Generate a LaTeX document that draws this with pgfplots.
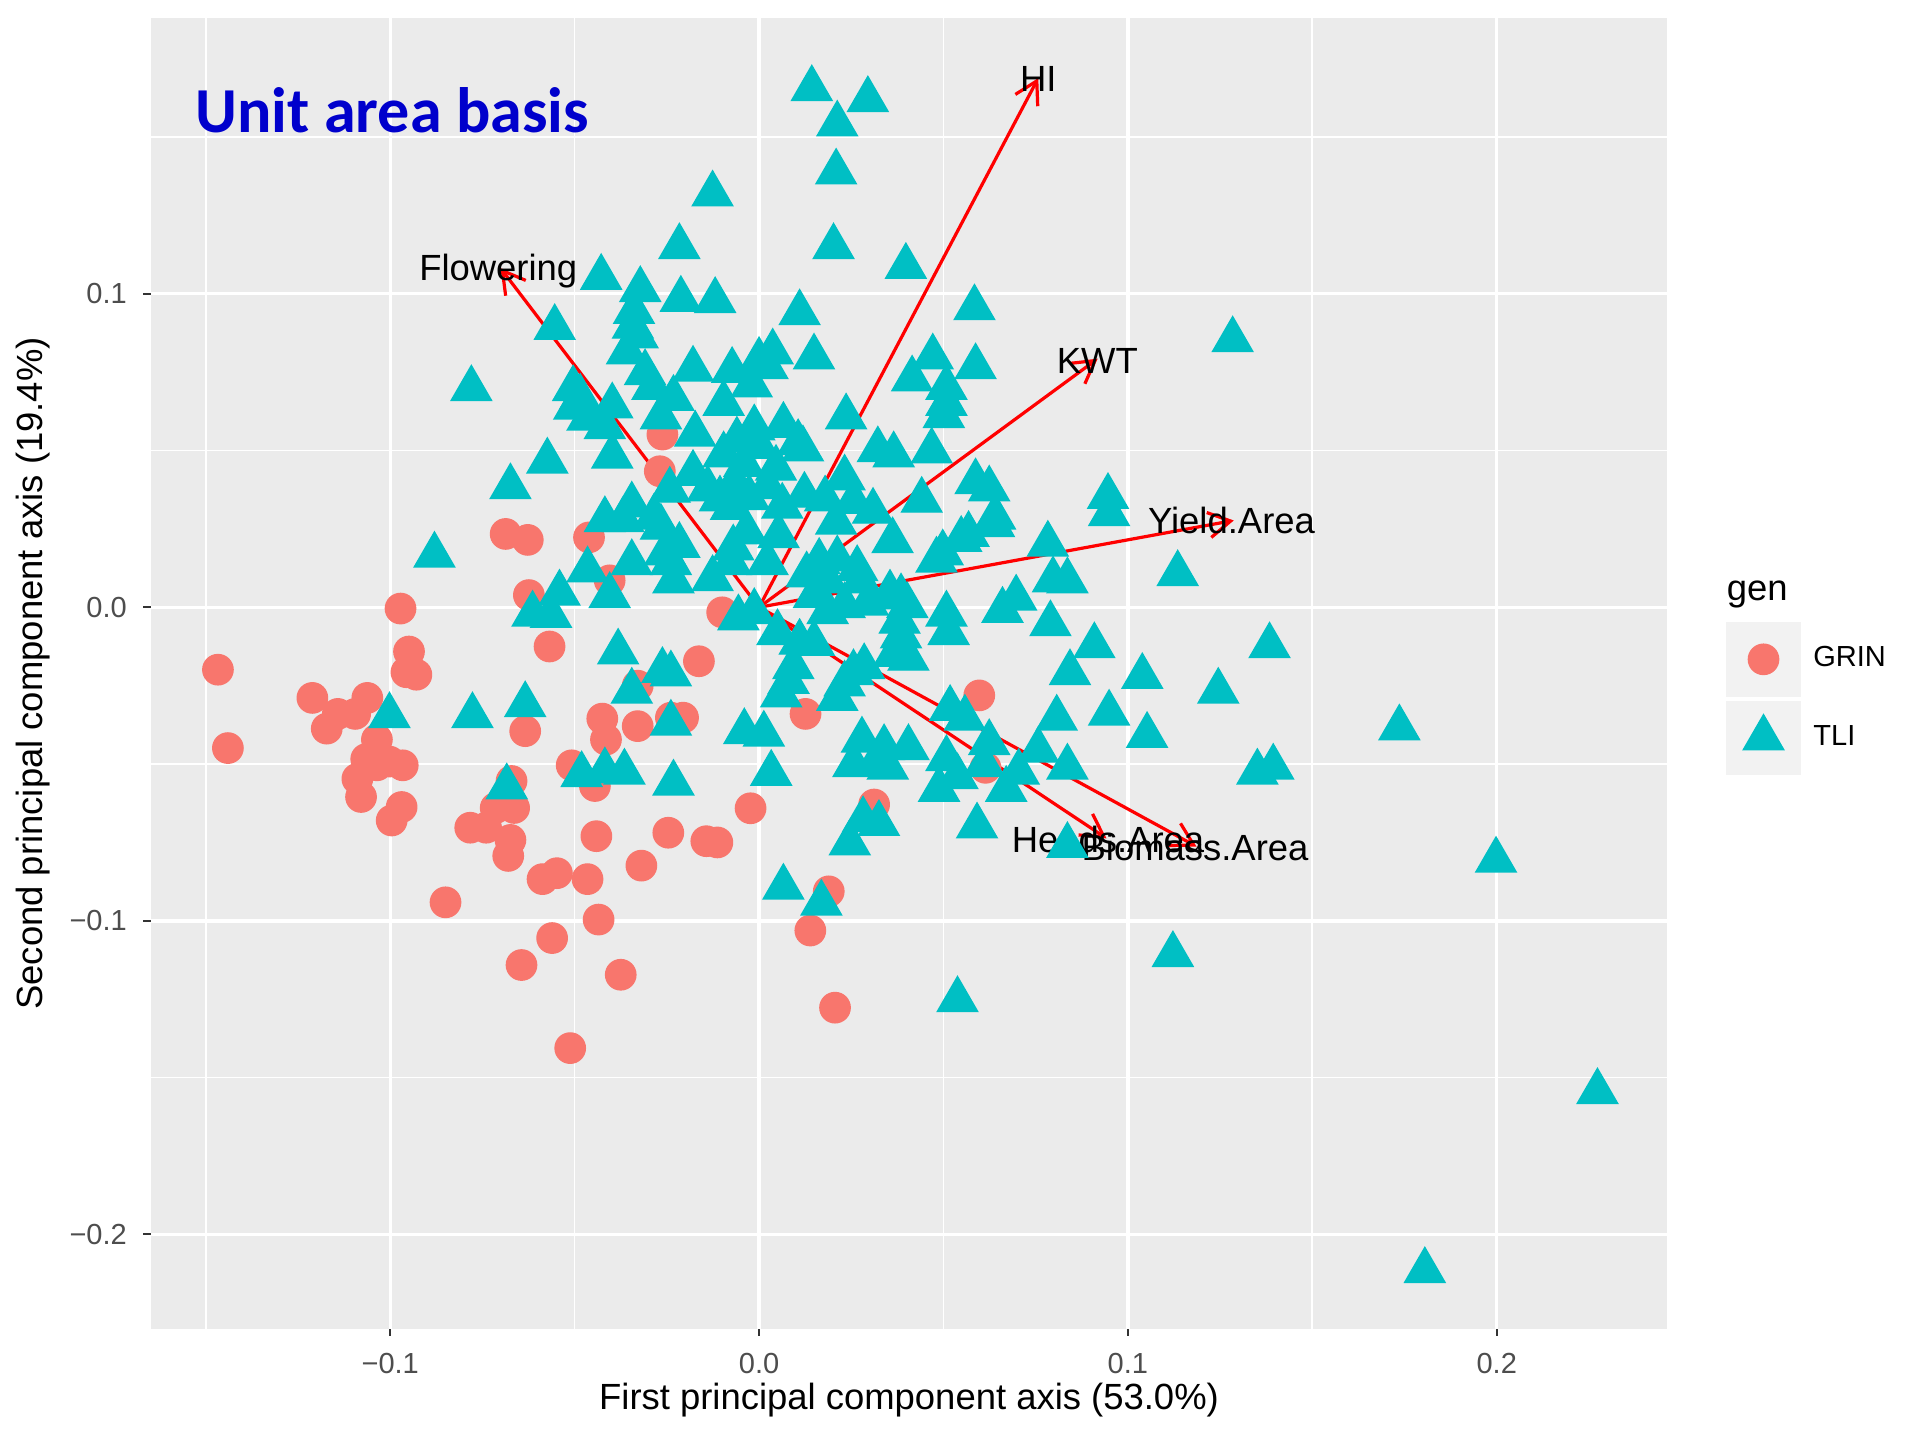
\documentclass[border=0pt]{standalone}
\usepackage{fontspec}
\setmainfont{Liberation Sans}
\newfontfamily\carlito{Carlito}
\usepackage{pgfplots}
\pgfplotsset{compat=1.18}
\usetikzlibrary{arrows.meta}

\definecolor{grin}{HTML}{F8766D}
\definecolor{tli}{HTML}{00BFC4}
\definecolor{panelbg}{HTML}{EBEBEB}
\definecolor{keybg}{HTML}{F2F2F2}
\definecolor{tickcol}{HTML}{333333}
\definecolor{ticklab}{HTML}{4D4D4D}
\definecolor{titleblue}{HTML}{0000CC}

\newcommand{\lbl}{\fontsize{10.8}{12}\selectfont}
\newcommand{\tkl}{\fontsize{8.6}{10}\selectfont}

\begin{document}
\begin{tikzpicture}
\useasboundingbox (0,0) rectangle (20cm,15cm);
\begin{axis}[
  at={(1.569cm,1.16cm)}, anchor=south west,
  width=15.80cm, height=13.65cm, scale only axis,
  xmin=-0.16495, xmax=0.24627, ymin=-0.23008, ymax=0.18789,
  axis background/.style={fill=panelbg},
  axis line style={draw=none},
  xtick={-0.1,0,0.1,0.2}, ytick={-0.2,-0.1,0,0.1},
  xticklabels={−0.1,0.0,0.1,0.2}, yticklabels={−0.2,−0.1,0.0,0.1},
  minor xtick={-0.15,-0.05,0.05,0.15}, minor ytick={-0.15,-0.05,0.05,0.15},
  grid=both,
  major grid style={white, line width=1.0pt},
  minor grid style={white, line width=0.5pt},
  tick align=outside, xtick pos=bottom, ytick pos=left,
  major tick length=0.075cm, minor tick length=0pt,
  tick style={tickcol, line width=0.6pt},
  ticklabel style={font=\tkl, text=ticklab, inner sep=0pt},
  xticklabel style={yshift=-0.178cm},
  yticklabel style={xshift=-0.166cm},
  xlabel={First principal component axis (53.0\%)},
  ylabel={Second principal component axis (19.4\%)},
  label style={font=\lbl},
  xlabel style={at={(axis description cs:0.5,-0.0542)}, anchor=center},
  ylabel style={at={(axis description cs:-0.0775,0.5)}, anchor=center},
  legend style={at={(axis description cs:1.0387,0.5393)}, anchor=north west,
    draw=none, fill=none, inner sep=0pt, outer sep=0pt,
    row sep=0.04cm, column sep=0.13cm, font=\tkl,
    nodes={inner sep=0pt, anchor=west}, cells={anchor=west}},
  legend image code/.code={
    \fill[keybg] (0cm,-0.3825cm) rectangle (0.765cm,0.3825cm);
    \draw[mark repeat=2,mark phase=2,#1] plot coordinates {(0.2825cm,0cm) (0.3825cm,0cm) (0.4825cm,0cm)};
  },
]

% GRIN
\addplot[only marks, mark=*, mark size=4.5pt, grin, mark options={draw=none, fill=grin}] coordinates {
(-0.1467,-0.0199) (-0.1440,-0.0449) (-0.1211,-0.0289) (-0.1172,-0.0387)
(-0.1142,-0.0340) (-0.1095,-0.0340) (-0.1062,-0.0289) (-0.1065,-0.0484)
(-0.1036,-0.0422) (-0.1089,-0.0547) (-0.1079,-0.0605) (-0.1036,-0.0504)
(-0.1002,-0.0492) (-0.0966,-0.0504) (-0.0996,-0.0680) (-0.0969,-0.0637)
(-0.0972,-0.0004) (-0.0949,-0.0141) (-0.0956,-0.0207) (-0.0929,-0.0215)
(-0.0850,-0.0941) (-0.0783,-0.0703) (-0.0740,-0.0703) (-0.0714,-0.0640)
(-0.0674,-0.0742) (-0.0680,-0.0793) (-0.0671,-0.0554) (-0.0664,-0.0640)
(-0.0687,0.0234) (-0.0627,0.0215) (-0.0624,0.0039) (-0.0568,-0.0125)
(-0.0634,-0.0395) (-0.0644,-0.1141) (-0.0587,-0.0867) (-0.0548,-0.0848)
(-0.0561,-0.1055) (-0.0512,-0.1406) (-0.0508,-0.0504) (-0.0461,0.0223)
(-0.0465,-0.0867) (-0.0445,-0.0570) (-0.0441,-0.0730) (-0.0435,-0.0996)
(-0.0425,-0.0355) (-0.0415,-0.0422) (-0.0405,0.0086) (-0.0375,-0.1172)
(-0.0329,-0.0379) (-0.0319,-0.0824) (-0.0329,-0.0250) (-0.0269,0.0434)
(-0.0262,0.0551) (-0.0246,-0.0719) (-0.0239,-0.0352) (-0.0206,-0.0352)
(-0.0163,-0.0172) (-0.0143,-0.0746) (-0.0113,-0.0750) (-0.0100,-0.0016)
(-0.0023,-0.0641) (0.0126,-0.0340) (0.0189,-0.0906) (0.0139,-0.1031)
(0.0206,-0.1277) (0.0312,-0.0629) (0.0597,-0.0281) (0.0614,-0.0512)
};
\addlegendentry{GRIN}

% TLI
\addplot[only marks, mark=triangle*, mark size=6.9pt, tli, mark options={draw=none, fill=tli}] coordinates {
(0.0143,0.1654) (0.0295,0.1619) (0.0212,0.1541) (0.0209,0.1388)
(-0.0126,0.1318) (0.0202,0.1150) (-0.0216,0.1150) (0.0398,0.1087)
(-0.0428,0.1052) (-0.0322,0.1013) (-0.0212,0.0982) (-0.0119,0.0978)
(0.0110,0.0939) (0.0584,0.0955) (-0.0339,0.0943) (-0.0342,0.0896)
(-0.0329,0.0865) (-0.0554,0.0892) (0.1284,0.0853) (-0.0358,0.0814)
(-0.0780,0.0697) (-0.0179,0.0759) (-0.0073,0.0755) (0.0000,0.0787)
(0.0037,0.0814) (0.0023,0.0767) (0.0149,0.0798) (0.0471,0.0798)
(0.0587,0.0767) (-0.0309,0.0748) (0.0415,0.0728) (-0.0020,0.0709)
(0.0508,0.0701) (-0.0504,0.0697) (-0.0485,0.0670) (-0.0501,0.0638)
(-0.0289,0.0701) (-0.0232,0.0666) (-0.0096,0.0650) (0.0508,0.0650)
(0.0501,0.0611) (0.0236,0.0607) (-0.0465,0.0603) (-0.0398,0.0642)
(-0.0418,0.0576) (-0.0266,0.0607) (-0.0173,0.0552) (-0.0013,0.0572)
(0.0066,0.0580) (0.0106,0.0525) (0.0119,0.0505) (-0.0060,0.0533)
(-0.0096,0.0486) (0.0000,0.0513) (0.0322,0.0502) (0.0365,0.0486)
(0.0468,0.0498) (-0.0398,0.0482) (-0.0574,0.0466) (-0.0040,0.0455)
(0.0046,0.0443) (-0.0179,0.0427) (-0.0674,0.0384) (0.0232,0.0412)
(0.0587,0.0400) (0.0624,0.0377) (-0.0139,0.0377) (-0.0066,0.0396)
(-0.0242,0.0373) (0.0023,0.0384) (0.0946,0.0353) (-0.0106,0.0345)
(-0.0027,0.0349) (0.0123,0.0357) (0.0179,0.0345) (0.0256,0.0337)
(0.0441,0.0341) (-0.0345,0.0326) (-0.0076,0.0318) (0.0063,0.0322)
(0.0949,0.0298) (0.0640,0.0287) (0.0309,0.0306) (-0.0418,0.0279)
(-0.0368,0.0279) (-0.0285,0.0287) (0.0637,0.0263) (-0.0033,0.0240)
(0.0053,0.0228) (-0.0266,0.0255) (0.0362,0.0212) (0.0209,0.0271)
(0.0568,0.0232) (0.0548,0.0216) (0.0783,0.0201) (-0.0216,0.0197)
(-0.0070,0.0189) (-0.0255,0.0173) (0.0498,0.0173) (-0.0880,0.0166)
(-0.0076,0.0142) (-0.0239,0.0142) (-0.0345,0.0142) (0.0023,0.0142)
(0.0163,0.0146) (0.0212,0.0154) (0.0266,0.0123) (0.0481,0.0150)
(0.1135,0.0107) (-0.0465,0.0119) (0.0129,0.0103) (-0.0126,0.0091)
(-0.0232,0.0084) (0.0797,0.0087) (0.0836,0.0084) (0.0275,0.0084)
(0.0186,0.0084) (0.0385,0.0033) (-0.0541,0.0045) (-0.0405,0.0037)
(0.0355,0.0045) (0.0697,0.0029) (0.0149,0.0037) (0.0295,0.0013)
(0.0232,0.0005) (0.0402,0.0005) (0.0660,-0.0010) (-0.0614,-0.0022)
(-0.0564,-0.0026) (-0.0056,-0.0034) (0.0508,-0.0022) (-0.0013,-0.0014)
(0.0790,-0.0053) (0.0186,-0.0014) (0.0381,-0.0045) (0.0514,-0.0081)
(0.0050,-0.0081) (0.0385,-0.0092) (0.0110,-0.0112) (0.0149,-0.0116)
(0.0909,-0.0123) (0.1384,-0.0123) (-0.0382,-0.0143) (0.0365,-0.0151)
(0.0405,-0.0163) (0.0093,-0.0190) (0.0285,-0.0190) (0.0256,-0.0209)
(0.0843,-0.0209) (-0.0239,-0.0213) (-0.0262,-0.0202) (0.1039,-0.0221)
(0.0080,-0.0237) (0.0232,-0.0245) (0.1245,-0.0268) (-0.0345,-0.0268)
(0.0060,-0.0280) (0.0212,-0.0291) (-0.0634,-0.0311) (0.0518,-0.0323)
(-0.1002,-0.0346) (-0.0777,-0.0346) (0.0949,-0.0338) (0.0807,-0.0354)
(0.0558,-0.0354) (-0.0239,-0.0370) (0.1736,-0.0385) (-0.0040,-0.0397)
(0.0013,-0.0405) (0.1052,-0.0409) (0.0279,-0.0424) (0.0624,-0.0432)
(0.0405,-0.0448) (0.0339,-0.0448) (0.0325,-0.0487) (0.0757,-0.0456)
(0.0508,-0.0483) (0.1394,-0.0510) (0.1351,-0.0526) (0.0256,-0.0502)
(0.0349,-0.0510) (0.0836,-0.0510) (0.0610,-0.0502) (0.0704,-0.0526)
(-0.0481,-0.0534) (-0.0418,-0.0522) (-0.0365,-0.0526) (0.0033,-0.0530)
(0.0538,-0.0541) (-0.0232,-0.0561) (-0.0684,-0.0573) (0.0670,-0.0581)
(0.0488,-0.0581) (0.0591,-0.0698) (0.0282,-0.0678) (0.0325,-0.0690)
(0.0246,-0.0752) (0.0836,-0.0760) (0.1998,-0.0807) (0.0066,-0.0893)
(0.0169,-0.0944) (0.1122,-0.1108) (0.0538,-0.1252) (0.2273,-0.1545)
(0.1805,-0.2116)
};
\addlegendentry{TLI}

% loading vectors
\pgfplotsset{every axis plot/.append style={forget plot}}
\addplot[red, line width=0.95pt, -{Straight Barb[length=6.5pt,width=7.5pt]}] coordinates {(0,0) (0.0757,0.1688)};
\addplot[red, line width=0.95pt, -{Straight Barb[length=6.5pt,width=7.5pt]}] coordinates {(0,0) (-0.0701,0.1082)};
\addplot[red, line width=0.95pt, -{Straight Barb[length=6.5pt,width=7.5pt]}] coordinates {(0,0) (0.0918,0.0793)};
\addplot[red, line width=0.95pt, -{Straight Barb[length=6.5pt,width=7.5pt]}] coordinates {(0,0) (0.1287,0.0277)};
\addplot[red, line width=0.95pt, -{Straight Barb[length=6.5pt,width=7.5pt]}] coordinates {(0,0) (0.0942,-0.0737)};
\addplot[red, line width=0.95pt, -{Straight Barb[length=6.5pt,width=7.5pt]}] coordinates {(0,0) (0.1186,-0.0763)};

\node[font=\lbl, anchor=base, inner sep=0pt] at (axis cs:0.0757,0.1645) {HI};
\node[font=\lbl, anchor=base, inner sep=0pt] at (axis cs:-0.0707,0.1043) {Flowering};
\node[font=\lbl, anchor=base, inner sep=0pt] at (axis cs:0.0917,0.0746) {KWT};
\node[font=\lbl, anchor=base, inner sep=0pt] at (axis cs:0.1281,0.0236) {Yield.Area};
\node[font=\lbl, anchor=base, inner sep=0pt] at (axis cs:0.0946,-0.0781) {Heads.Area};
\node[font=\lbl, anchor=base, inner sep=0pt] at (axis cs:0.1182,-0.0809) {Biomass.Area};

\node[anchor=base west, inner sep=0pt, text=titleblue, font=\carlito\bfseries\fontsize{19}{22}\selectfont] at (axis cs:-0.1530,0.1516) {Unit area basis};
\end{axis}
% legend title
\node[anchor=west, inner sep=0pt, font=\lbl] at (17.98cm,8.81cm) {gen};
\end{tikzpicture}
\end{document}
